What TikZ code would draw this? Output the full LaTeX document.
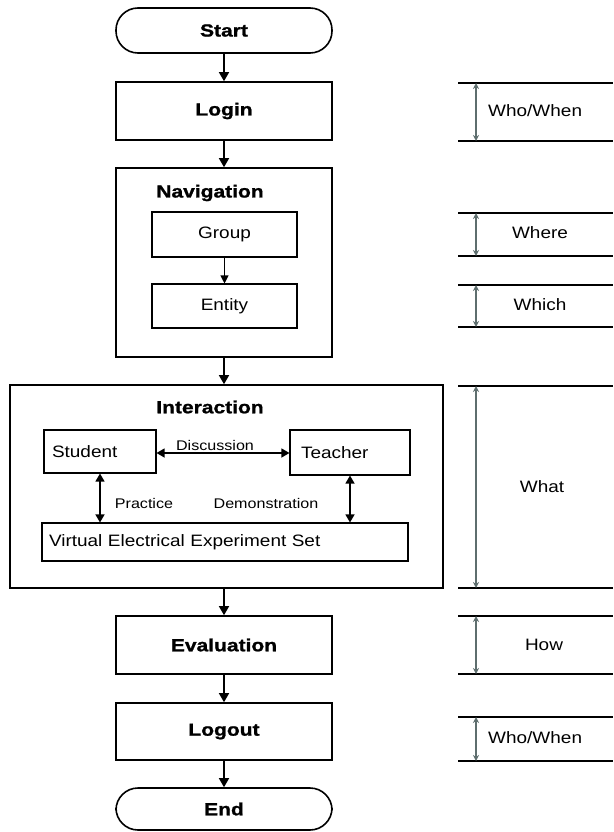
\documentclass[tikz,border=0pt]{standalone}
\usepackage{fontspec}
\setmainfont{Liberation Sans}
\newfontfamily\nfont{Liberation Sans}[FakeStretch=1.15]
\newfontfamily\tfont{Liberation Sans}[FakeStretch=1.2, BoldFeatures={FakeBold=1.2}]
\usetikzlibrary{arrows.meta}
\definecolor{arrgray}{HTML}{5E6E6E}
\tikzset{
  box/.style={draw, line width=1.6pt, minimum width=216pt, minimum height=58pt, inner sep=0pt},
  term/.style={box, rounded corners=22pt},
  ttl/.style={font=\tfont\bfseries\fontsize{17.5}{20}\selectfont, inner sep=0pt},
  sub/.style={draw, line width=1.1pt, inner sep=0pt, font=\nfont\fontsize{16.5}{19}\selectfont},
  lbl/.style={inner sep=0pt, font=\nfont\fontsize{14}{16}\selectfont},
  side/.style={inner sep=0pt, font=\nfont\fontsize{16.5}{19}\selectfont},
  arr/.style={line width=1.5pt, -{Triangle[length=9pt,width=10pt]}},
  darr/.style={line width=1.3pt, {Triangle[length=8pt,width=9pt]}-{Triangle[length=8pt,width=9pt]}},
  garr/.style={line width=1.2pt, draw=arrgray, {Stealth[length=6pt,width=6pt,open]}-{Stealth[length=6pt,width=6pt,open]}},
  hl/.style={line width=1.8pt},
}
\begin{document}
\begin{tikzpicture}[x=1pt,y=-1pt]
\useasboundingbox (0,0) rectangle (613,832);
% main flow
\node[term, minimum height=45pt, ttl] (start) at (224,30.5) {Start};
\node[box, ttl] (login) at (224,111) {Login};
\node[box, minimum height=189pt] (nav) at (224,262.5) {};
\node[ttl] (navt) at (210,193) {Navigation};
\node[sub, minimum width=145pt, minimum height=45pt] (group) at (224.5,234.5) {Group};
\node[sub, minimum width=145pt, minimum height=44pt] (entity) at (224.5,306) {Entity};
\node[box, minimum width=433pt, minimum height=203pt] (inter) at (226.5,486.5) {};
\node[ttl] (intt) at (210,407) {Interaction};
\node[sub, minimum width=104pt, minimum height=43pt, text width=96pt, align=left, inner xsep=8pt] (student) at (100,451.5) {Student};
\node[sub, minimum width=110pt, minimum height=45pt, text width=98pt, align=left, inner xsep=11pt] (teacher) at (350,452.5) {Teacher};
\node[sub, minimum width=360pt, minimum height=38pt, text width=352pt, align=left, inner xsep=7pt] (vees) at (225,542) {Virtual Electrical Experiment Set};
\node[box, ttl] (eval) at (224,645) {Evaluation};
\node[box, minimum height=57pt, ttl] (logout) at (224,731.5) {Logout};
\node[term, minimum height=42pt, ttl] (end) at (224,809) {End};
% labels
\node[lbl] (disc) at (215,445) {Discussion};
\node[lbl] (prac) at (144,503) {Practice};
\node[lbl] (demo) at (266,503) {Demonstration};
% connectors
\draw[arr] (start) -- (login);
\draw[arr] (login) -- (nav);
\draw[arr, line width=1.1pt, -{Triangle[length=8pt,width=8pt]}] (group) -- (entity);
\draw[arr] (nav.south) -- (nav.south |- inter.north);
\draw[arr] (eval.north |- inter.south) -- (eval.north);
\draw[arr] (eval) -- (logout);
\draw[arr] (logout) -- (end);
\draw[darr] (student.east |- 0,453) -- (teacher.west |- 0,453);
\draw[darr] (student.south -| 100,0) -- (vees.north -| 100,0);
\draw[darr] (teacher.south -| 350,0) -- (vees.north -| 350,0);
% right column
\foreach \n/\a/\b in {wa/83/141, wb/213/256, wc/285/327, wd/386/588, we/616/674, wf/717/761}{
  \coordinate (\n t) at (476,\a);
  \coordinate (\n b) at (476,\b);
  \coordinate (\n tl) at (458,\a);
  \coordinate (\n tr) at (613,\a);
  \coordinate (\n bl) at (458,\b);
  \coordinate (\n br) at (613,\b);
  \draw[hl] (\n tl) -- (\n tr);
  \draw[hl] (\n bl) -- (\n br);
  \draw[garr] (\n t) -- (\n b);
}
\node[side, anchor=west] (ta) at (488,111) {Who/When};
\node[side] (tb) at (540,233) {Where};
\node[side] (tc) at (540,305) {Which};
\node[side] (td) at (542,487) {What};
\node[side] (te) at (544,645) {How};
\node[side, anchor=west] (tf) at (488,738) {Who/When};
\end{tikzpicture}
\end{document}
